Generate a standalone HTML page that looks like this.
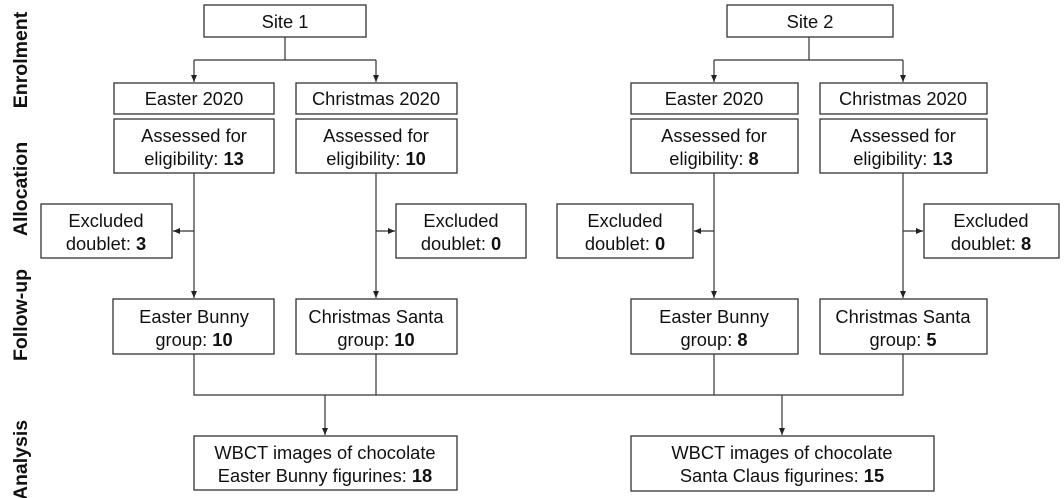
<!DOCTYPE html>
<html><head><meta charset="utf-8"><style>
html,body{margin:0;padding:0;background:#fff;}
svg{display:block;}
text{font-family:"Liberation Sans",Arial,sans-serif;font-size:18.3px;fill:#111;}
.lab{font-size:19.5px;font-weight:bold;}
rect{fill:#fff;stroke:#333;stroke-width:1.3;}
line,polyline{stroke:#333;stroke-width:1.2;fill:none;}
</style></head><body>
<svg width="1064" height="498" viewBox="0 0 1064 498">
<defs><marker id="a" markerWidth="8" markerHeight="8" refX="7" refY="4" orient="auto" markerUnits="userSpaceOnUse"><path d="M0,1 L7,4 L0,7 z" fill="#222"/></marker></defs>
<text class="lab" transform="translate(27,60) rotate(-90)" text-anchor="middle">Enrolment</text>
<text class="lab" transform="translate(27,189) rotate(-90)" text-anchor="middle">Allocation</text>
<text class="lab" transform="translate(27,315) rotate(-90)" text-anchor="middle">Follow-up</text>
<text class="lab" transform="translate(27,460) rotate(-90)" text-anchor="middle">Analysis</text>
<line x1="285" y1="37" x2="285" y2="60"/><line x1="194" y1="60" x2="376" y2="60"/>
<line x1="194" y1="60" x2="194" y2="82" marker-end="url(#a)"/><line x1="376" y1="60" x2="376" y2="82" marker-end="url(#a)"/>
<line x1="809" y1="37" x2="809" y2="60"/><line x1="714" y1="60" x2="903" y2="60"/>
<line x1="714" y1="60" x2="714" y2="82" marker-end="url(#a)"/><line x1="903" y1="60" x2="903" y2="82" marker-end="url(#a)"/>
<line x1="194" y1="173" x2="194" y2="298" marker-end="url(#a)"/><line x1="194" y1="231" x2="173" y2="231" marker-end="url(#a)"/>
<line x1="376" y1="173" x2="376" y2="298" marker-end="url(#a)"/><line x1="376" y1="231" x2="395" y2="231" marker-end="url(#a)"/>
<line x1="714" y1="173" x2="714" y2="298" marker-end="url(#a)"/><line x1="714" y1="231" x2="694" y2="231" marker-end="url(#a)"/>
<line x1="903" y1="173" x2="903" y2="298" marker-end="url(#a)"/><line x1="903" y1="231" x2="923" y2="231" marker-end="url(#a)"/>
<polyline points="194,354 194,395 903,395 903,354"/>
<line x1="376" y1="354" x2="376" y2="395"/><line x1="714" y1="354" x2="714" y2="395"/>
<line x1="325" y1="395" x2="325" y2="435" marker-end="url(#a)"/><line x1="782" y1="395" x2="782" y2="435" marker-end="url(#a)"/>
<rect x="204" y="5" width="162" height="32"/><text x="285" y="28" text-anchor="middle">Site 1</text>
<rect x="727" y="5" width="166" height="32"/><text x="810" y="28" text-anchor="middle">Site 2</text>
<rect x="114" y="83" width="160" height="31"/><text x="194" y="105" text-anchor="middle">Easter 2020</text>
<rect x="296" y="83" width="161" height="31"/><text x="376" y="105" text-anchor="middle">Christmas 2020</text>
<rect x="631" y="83" width="167" height="31"/><text x="714" y="105" text-anchor="middle">Easter 2020</text>
<rect x="820" y="83" width="167" height="31"/><text x="903" y="105" text-anchor="middle">Christmas 2020</text>
<rect x="114" y="119" width="160" height="54"/><text x="194" y="142" text-anchor="middle">Assessed for</text><text x="194" y="165" text-anchor="middle">eligibility: <tspan font-weight="bold">13</tspan></text>
<rect x="296" y="119" width="161" height="54"/><text x="376" y="142" text-anchor="middle">Assessed for</text><text x="376" y="165" text-anchor="middle">eligibility: <tspan font-weight="bold">10</tspan></text>
<rect x="631" y="119" width="167" height="54"/><text x="714" y="142" text-anchor="middle">Assessed for</text><text x="714" y="165" text-anchor="middle">eligibility: <tspan font-weight="bold">8</tspan></text>
<rect x="820" y="119" width="167" height="54"/><text x="903" y="142" text-anchor="middle">Assessed for</text><text x="903" y="165" text-anchor="middle">eligibility: <tspan font-weight="bold">13</tspan></text>
<rect x="41" y="204" width="131" height="54"/><text x="106" y="227" text-anchor="middle">Excluded</text><text x="106" y="250" text-anchor="middle">doublet: <tspan font-weight="bold">3</tspan></text>
<rect x="396" y="204" width="130" height="54"/><text x="461" y="227" text-anchor="middle">Excluded</text><text x="461" y="250" text-anchor="middle">doublet: <tspan font-weight="bold">0</tspan></text>
<rect x="557" y="204" width="136" height="54"/><text x="625" y="227" text-anchor="middle">Excluded</text><text x="625" y="250" text-anchor="middle">doublet: <tspan font-weight="bold">0</tspan></text>
<rect x="924" y="204" width="135" height="54"/><text x="991" y="227" text-anchor="middle">Excluded</text><text x="991" y="250" text-anchor="middle">doublet: <tspan font-weight="bold">8</tspan></text>
<rect x="113" y="299" width="161" height="55"/><text x="194" y="323" text-anchor="middle">Easter Bunny</text><text x="194" y="346" text-anchor="middle">group: <tspan font-weight="bold">10</tspan></text>
<rect x="296" y="299" width="161" height="55"/><text x="376" y="323" text-anchor="middle">Christmas Santa</text><text x="376" y="346" text-anchor="middle">group: <tspan font-weight="bold">10</tspan></text>
<rect x="631" y="299" width="167" height="55"/><text x="714" y="323" text-anchor="middle">Easter Bunny</text><text x="714" y="346" text-anchor="middle">group: <tspan font-weight="bold">8</tspan></text>
<rect x="820" y="299" width="167" height="55"/><text x="903" y="323" text-anchor="middle">Christmas Santa</text><text x="903" y="346" text-anchor="middle">group: <tspan font-weight="bold">5</tspan></text>
<rect x="194" y="436" width="263" height="54"/><text x="325" y="459" text-anchor="middle">WBCT images of chocolate</text><text x="325" y="482" text-anchor="middle">Easter Bunny figurines: <tspan font-weight="bold">18</tspan></text>
<rect x="631" y="436" width="303" height="55"/><text x="782" y="459" text-anchor="middle">WBCT images of chocolate</text><text x="782" y="482" text-anchor="middle">Santa Claus figurines: <tspan font-weight="bold">15</tspan></text>
</svg>
</body></html>
